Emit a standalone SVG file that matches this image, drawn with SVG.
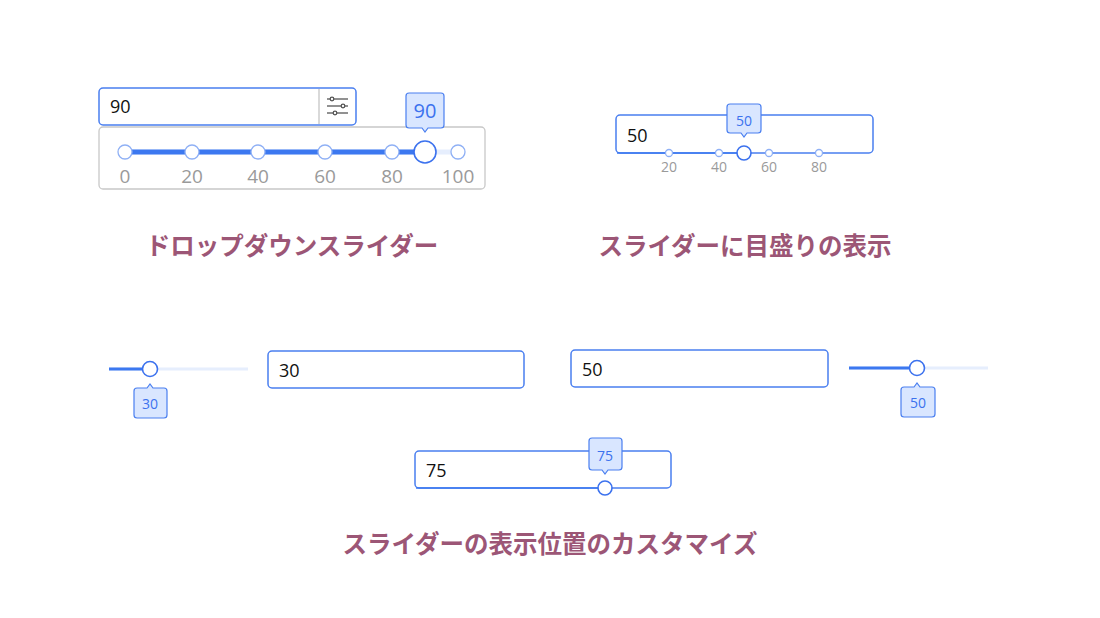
<svg xmlns="http://www.w3.org/2000/svg" width="1100" height="618" viewBox="0 0 1100 618">
<style>
.inp{fill:#fff;stroke:#4a7ff0;stroke-width:1.5}
.val{font-family:"Open Sans","Noto Sans",sans-serif;font-size:18px;fill:#111}
.tick{fill:#fff;stroke:#8fb0f5;stroke-width:1.3}
.thumb{fill:#fff;stroke:#3c72ee;stroke-width:1.6}
.lbl{font-family:"Open Sans","Noto Sans",sans-serif;fill:#9a9a9a;text-anchor:middle}
.tip{fill:#d9e6ff;stroke:#4a7ff0;stroke-width:1.2}
.tipt{font-family:"Open Sans","Noto Sans",sans-serif;fill:#3c72ee;text-anchor:middle}
.fill{stroke:#3c78f0}
.rest{stroke:#e6eefd}
.title{font-family:"Noto Sans CJK JP",sans-serif;font-size:24.5px;font-weight:bold;fill:#9c5676;text-anchor:middle}
</style>
<rect width="1100" height="618" fill="#fff"/>
<g id="dropdown-slider">
<rect class="inp" x="99" y="88" width="257" height="37" rx="4"/>
<line x1="319" y1="89" x2="319" y2="124" stroke="#ccc" stroke-width="1.5"/>
<g stroke="#555" stroke-width="1.3" fill="#fff">
<line x1="327" y1="99" x2="348" y2="99"/><line x1="327" y1="106" x2="348" y2="106"/><line x1="327" y1="113" x2="348" y2="113"/>
<circle cx="332" cy="99" r="1.8"/><circle cx="343" cy="106" r="1.8"/><circle cx="335" cy="113" r="1.8"/>
</g>
<text class="val" x="110" y="113">90</text>
<rect x="99" y="127" width="386" height="62" rx="4" fill="#fff" stroke="#c8c8c8" stroke-width="1.3"/>
<line class="rest" x1="125" y1="152" x2="458" y2="152" stroke-width="5"/>
<line class="fill" x1="125" y1="152" x2="425" y2="152" stroke-width="5"/>
<circle class="tick" cx="125" cy="152" r="7"/><circle class="tick" cx="192" cy="152" r="7"/><circle class="tick" cx="258" cy="152" r="7"/><circle class="tick" cx="325" cy="152" r="7"/><circle class="tick" cx="392" cy="152" r="7"/><circle class="tick" cx="458" cy="152" r="7"/>
<circle class="thumb" cx="425" cy="152" r="11"/>
<g class="lbl" font-size="19"><text x="125" y="183">0</text><text x="192" y="183">20</text><text x="258" y="183">40</text><text x="325" y="183">60</text><text x="392" y="183">80</text><text x="458" y="183">100</text></g>
<path class="tip" d="M409,93 H441 a3,3 0 0 1 3,3 V125 a3,3 0 0 1 -3,3 H428 L425,132 L422,128 H409 a3,3 0 0 1 -3,-3 V96 a3,3 0 0 1 3,-3 Z"/>
<text class="tipt" x="425" y="118" font-size="20">90</text>
<text class="title" x="292" y="255">ドロップダウンスライダー</text>
</g>
<g id="tick-slider">
<rect class="inp" x="616" y="115" width="257" height="38" rx="4"/>
<text class="val" x="627" y="142">50</text>
<line class="fill" x1="617" y1="153" x2="744" y2="153" stroke-width="1.5"/>
<circle class="tick" cx="669" cy="153" r="3.5"/><circle class="tick" cx="719" cy="153" r="3.5"/><circle class="tick" cx="769" cy="153" r="3.5"/><circle class="tick" cx="819" cy="153" r="3.5"/>
<circle class="thumb" cx="744" cy="153" r="7"/>
<g class="lbl" font-size="14"><text x="669" y="172">20</text><text x="719" y="172">40</text><text x="769" y="172">60</text><text x="819" y="172">80</text></g>
<path class="tip" d="M730,104 H758 a3,3 0 0 1 3,3 V130 a3,3 0 0 1 -3,3 H747 L744,137 L741,133 H730 a3,3 0 0 1 -3,-3 V107 a3,3 0 0 1 3,-3 Z"/>
<text class="tipt" x="744" y="126" font-size="14">50</text>
<text class="title" x="745" y="255">スライダーに目盛りの表示</text>
</g>
<g id="left-slider">
<line class="rest" x1="109" y1="369" x2="248" y2="369" stroke-width="3"/>
<line class="fill" x1="109" y1="369" x2="150" y2="369" stroke-width="3"/>
<circle class="thumb" cx="150" cy="369" r="7.5"/>
<path class="tip" d="M137,388 H147 L150,384 L153,388 H164 a3,3 0 0 1 3,3 V415 a3,3 0 0 1 -3,3 H137 a3,3 0 0 1 -3,-3 V391 a3,3 0 0 1 3,-3 Z"/>
<text class="tipt" x="150" y="409" font-size="14">30</text>
<rect class="inp" x="268" y="351" width="256" height="37" rx="4"/>
<text class="val" x="279" y="377">30</text>
</g>
<g id="right-slider">
<rect class="inp" x="571" y="350" width="257" height="37" rx="4"/>
<text class="val" x="582" y="376">50</text>
<line class="rest" x1="849" y1="368" x2="988" y2="368" stroke-width="3"/>
<line class="fill" x1="849" y1="368" x2="917" y2="368" stroke-width="3"/>
<circle class="thumb" cx="917" cy="368" r="7.5"/>
<path class="tip" d="M904,387 H914 L917,383 L920,387 H932 a3,3 0 0 1 3,3 V414 a3,3 0 0 1 -3,3 H904 a3,3 0 0 1 -3,-3 V390 a3,3 0 0 1 3,-3 Z"/>
<text class="tipt" x="918" y="408" font-size="14">50</text>
</g>
<g id="bottom-slider">
<rect class="inp" x="415" y="451" width="256" height="37" rx="4"/>
<text class="val" x="426" y="477">75</text>
<line class="fill" x1="416" y1="488" x2="605" y2="488" stroke-width="1.5"/>
<circle class="thumb" cx="605" cy="488" r="7"/>
<path class="tip" d="M592,438 H619 a3,3 0 0 1 3,3 V467 a3,3 0 0 1 -3,3 H608 L605,474 L602,470 H592 a3,3 0 0 1 -3,-3 V441 a3,3 0 0 1 3,-3 Z"/>
<text class="tipt" x="605" y="461" font-size="14">75</text>
</g>
<text class="title" x="550" y="553">スライダーの表示位置のカスタマイズ</text>
</svg>
